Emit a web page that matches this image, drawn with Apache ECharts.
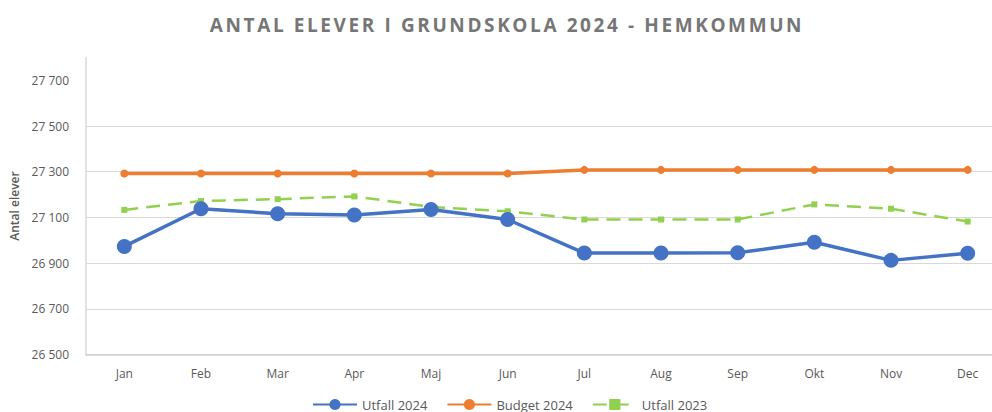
<!DOCTYPE html>
<html>
<head>
<meta charset="utf-8">
<script src="https://cdn.jsdelivr.net/npm/echarts@6/dist/echarts.min.js"></script>
<style>
  html, body { margin: 0; padding: 0; background: #fff; overflow: hidden; }
  /* the plot area runs a little past the right edge of the picture */
  #myChart { width: 1006px; height: 412px; }
</style>
</head>
<body>
<div id="myChart"></div>
<script>
  // data
  const months = ['Jan', 'Feb', 'Mar', 'Apr', 'Maj', 'Jun', 'Jul', 'Aug', 'Sep', 'Okt', 'Nov', 'Dec'];
  const utfall2024 = [26973, 27138, 27116, 27111, 27135, 27091, 26944, 26944, 26945, 26991, 26912, 26943];
  const budget2024 = [27292, 27292, 27292, 27292, 27292, 27292, 27308, 27308, 27308, 27308, 27308, 27308];
  const utfall2023 = [27133, 27172, 27180, 27192, 27146, 27127, 27091, 27091, 27091, 27157, 27138, 27082];
  const yTicks = [26500, 26700, 26900, 27100, 27300, 27500, 27700];

  const titleText = 'ANTAL ELEVER I GRUNDSKOLA 2024 - HEMKOMMUN';
  const fmt = v => String(v).replace(/\B(?=(\d{3})+(?!\d))/g, ' ');
  const font = '"Open Sans", "Liberation Sans", sans-serif';

  let myChart = echarts.init(document.getElementById('myChart'), null, { renderer: 'svg' });
  myChart.setOption({
    animation: false,
    title: {
      text: titleText,
      left: 502,
      textAlign: 'center',
      top: 10,
      textStyle: {
        color: '#767676',
        fontSize: 19,
        fontWeight: 'bold',
        fontFamily: font
      }
    },
    grid: {
      left: 86,
      right: 0,
      top: 57.5,
      bottom: 57.5
    },
    legend: {
      data: ['Utfall 2024', 'Budget 2024', 'Utfall 2023'],
      top: 393,
      left: 307,
      itemWidth: 44,
      itemHeight: 14,
      itemGap: 19,
      textStyle: { color: '#595959', fontSize: 13, fontFamily: font }
    },
    xAxis: {
      type: 'category',
      data: months,
      boundaryGap: true,
      axisLine: { lineStyle: { color: '#cfcfcf', width: 1.5 } },
      axisTick: { show: false },
      axisLabel: { color: '#595959', fontSize: 12, fontFamily: font, margin: 13 }
    },
    yAxis: {
      type: 'value',
      min: 26500,
      max: 27800,
      name: 'Antal elever',
      nameLocation: 'middle',
      nameGap: 63,
      nameTextStyle: { color: '#595959', fontSize: 12, fontWeight: 600, fontFamily: font },
      axisLine: { show: true, lineStyle: { color: '#d9d9d9', width: 1.5 } },
      axisTick: { show: false, customValues: yTicks },
      axisLabel: {
        customValues: yTicks,
        color: '#595959',
        fontSize: 12,
        fontFamily: font,
        margin: 17,
        formatter: fmt
      },
      splitLine: { showMaxLine: false, lineStyle: { color: '#d9d9d9', width: 1 } }
    },
    series: [
      {
        name: 'Utfall 2024',
        type: 'line',
        data: utfall2024,
        symbol: 'circle',
        symbolSize: 15,
        z: 4,
        itemStyle: { color: '#4472C4' },
        lineStyle: { color: '#4472C4', width: 3.5 }
      },
      {
        name: 'Budget 2024',
        type: 'line',
        data: budget2024,
        symbol: 'circle',
        symbolSize: 8,
        z: 3,
        itemStyle: { color: '#ED7D31' },
        lineStyle: { color: '#ED7D31', width: 3.5 }
      },
      {
        name: 'Utfall 2023',
        type: 'line',
        data: utfall2023,
        symbol: 'rect',
        symbolSize: 6,
        z: 2,
        itemStyle: { color: '#92D050' },
        lineStyle: { color: '#92D050', width: 2.5, type: [14, 8] }
      }
    ]
  });

  // the title in the original is letter-spaced; echarts has no option for it
  document.querySelectorAll('#myChart svg text').forEach(t => {
    if (t.textContent === titleText) t.style.letterSpacing = '2.6px';
  });
</script>
</body>
</html>
